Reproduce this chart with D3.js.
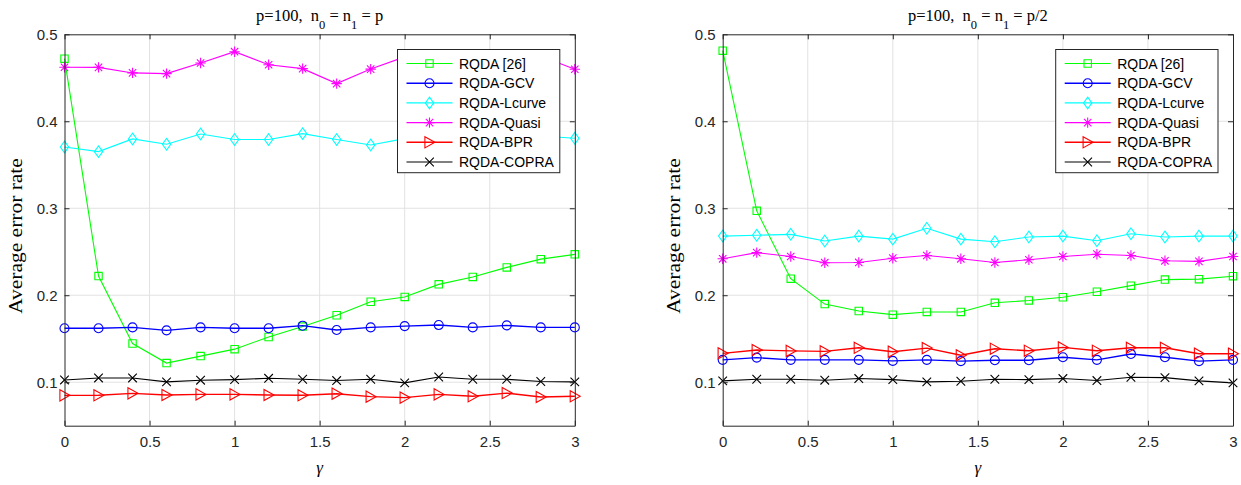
<!DOCTYPE html>
<html>
<head>
<meta charset="utf-8">
<script src="https://cdn.jsdelivr.net/npm/d3@7"></script>
<style>
  body { margin: 0; background: #fff; }
  svg { display: block; }
  .title, .ylab, .xlab { font-family: "Liberation Serif", "Times New Roman", serif; fill: #000; white-space: pre; }
  .tick text { font-family: "Liberation Sans", Arial, sans-serif; font-size: 15px; fill: #262626; }
  .legend text { font-family: "Liberation Sans", Arial, sans-serif; font-size: 14px; fill: #000; }
</style>
</head>
<body>
<svg id="fig" width="1241" height="485"></svg>
<script>
// Regularisation parameter sweep
const gamma = [0, 0.2, 0.4, 0.6, 0.8, 1.0, 1.2, 1.4, 1.6, 1.8, 2.0, 2.2, 2.4, 2.6, 2.8, 3.0];
const seriesNames = ["RQDA [26]", "RQDA-GCV", "RQDA-Lcurve", "RQDA-Quasi", "RQDA-BPR", "RQDA-COPRA"];
const xTicks = [0, 0.5, 1, 1.5, 2, 2.5, 3];
const xTickLabels = ["0", "0.5", "1", "1.5", "2", "2.5", "3"];
const yTicks = [0.1, 0.2, 0.3, 0.4, 0.5];
const yTickLabels = ["0.1", "0.2", "0.3", "0.4", "0.5"];

// p = 100, n0 = n1 = p
const rqdaFull   = [0.472, 0.222, 0.1445, 0.122, 0.130, 0.138, 0.152, 0.164, 0.177, 0.1925, 0.198, 0.2125, 0.221, 0.232, 0.2415, 0.247];
const gcvFull    = [0.162, 0.162, 0.163, 0.1596, 0.163, 0.162, 0.162, 0.165, 0.160, 0.163, 0.1645, 0.1657, 0.163, 0.1653, 0.163, 0.163];
const lcurveFull = [0.3705, 0.3651, 0.3797, 0.3736, 0.3854, 0.379, 0.379, 0.3858, 0.379, 0.3728, 0.380, 0.381, 0.382, 0.380, 0.383, 0.3804];
const quasiFull  = [0.4621, 0.462, 0.4556, 0.4548, 0.467, 0.480, 0.465, 0.4605, 0.4433, 0.460, 0.474, 0.470, 0.472, 0.468, 0.475, 0.4598];
const bprFull    = [0.0849, 0.085, 0.0872, 0.0853, 0.086, 0.086, 0.0853, 0.085, 0.0868, 0.0834, 0.0823, 0.086, 0.0838, 0.0875, 0.083, 0.0838];
const copraFull  = [0.1026, 0.1049, 0.1049, 0.1004, 0.1023, 0.103, 0.1045, 0.1034, 0.1019, 0.1034, 0.0992, 0.106, 0.1034, 0.1034, 0.1008, 0.1004];

// p = 100, n0 = n1 = p/2
const rqdaHalf   = [0.4812, 0.297, 0.219, 0.1898, 0.1819, 0.1777, 0.1808, 0.1808, 0.1913, 0.194, 0.1977, 0.204, 0.211, 0.218, 0.2185, 0.2219];
const gcvHalf    = [0.1257, 0.1283, 0.1257, 0.1257, 0.1257, 0.1245, 0.1257, 0.1242, 0.1253, 0.1253, 0.1287, 0.1257, 0.1325, 0.1287, 0.1242, 0.1257];
const lcurveHalf = [0.268, 0.269, 0.270, 0.2623, 0.268, 0.2645, 0.277, 0.2645, 0.2615, 0.267, 0.268, 0.2626, 0.2706, 0.267, 0.268, 0.268];
const quasiHalf  = [0.2419, 0.249, 0.2445, 0.2374, 0.2377, 0.2426, 0.2457, 0.2419, 0.2377, 0.2408, 0.2445, 0.2472, 0.2457, 0.2396, 0.2389, 0.2445];
const bprHalf    = [0.1332, 0.137, 0.136, 0.1355, 0.1396, 0.1351, 0.1392, 0.131, 0.1385, 0.1362, 0.140, 0.1362, 0.1396, 0.1396, 0.1328, 0.1328];
const copraHalf  = [0.1015, 0.1034, 0.1034, 0.1023, 0.1042, 0.103, 0.1004, 0.1011, 0.1034, 0.103, 0.1042, 0.1019, 0.1057, 0.1053, 0.1015, 0.0992];

// Marker outlines, centred on (0,0)
const markerPath = {
  square:   () => "M-3.7,-3.7H3.7V3.7H-3.7Z",
  circle:   () => "M-4.5,0A4.5,4.5 0 1,0 4.5,0A4.5,4.5 0 1,0 -4.5,0Z",
  diamond:  () => "M0,-5.8L4.2,0L0,5.8L-4.2,0Z",
  asterisk: () => "M0,-5.2V5.2M-5.2,0H5.2M-3.7,-3.7L3.7,3.7M-3.7,3.7L3.7,-3.7",
  triRight: () => "M-4.6,-5.6L5.4,0L-4.6,5.6Z",
  cross:    () => "M-4.3,-4.3L4.3,4.3M-4.3,4.3L4.3,-4.3"
};
const seriesStyle = [
  { color: "#00ff00", marker: "square",   width: 1.1 },
  { color: "#0000ff", marker: "circle",   width: 1.4 },
  { color: "#00ffff", marker: "diamond",  width: 1.1 },
  { color: "#ff00ff", marker: "asterisk", width: 1.1 },
  { color: "#ff0000", marker: "triRight", width: 1.4 },
  { color: "#000000", marker: "cross",    width: 1.1 }
];

const panels = [
  { left: 64.5, title: ["p=100,  n", "0", " = n", "1", " = p"],
    series: [rqdaFull, gcvFull, lcurveFull, quasiFull, bprFull, copraFull] },
  { left: 722.7, title: ["p=100,  n", "0", " = n", "1", " = p/2"],
    series: [rqdaHalf, gcvHalf, lcurveHalf, quasiHalf, bprHalf, copraHalf] }
];

const plotW = 510.3, plotTop = 34.3, plotBottom = 425.7;
const axisColor = "#262626", gridColor = "#e2e2e2";
const svg = d3.select("#fig");

panels.forEach(p => {
  const x = d3.scaleLinear().domain([0, 3]).range([p.left, p.left + plotW]);
  const y = d3.scaleLinear().domain([0.05, 0.5]).range([plotBottom, plotTop]);
  const g = svg.append("g");

  // white plotting area and grid
  g.append("rect").attr("x", x(0)).attr("y", plotTop)
    .attr("width", plotW).attr("height", plotBottom - plotTop).attr("fill", "#fff");
  g.append("g").selectAll("line").data(xTicks.slice(1, -1)).join("line")
    .attr("x1", d => x(d)).attr("x2", d => x(d)).attr("y1", plotTop).attr("y2", plotBottom)
    .attr("stroke", gridColor).attr("stroke-width", 1);
  g.append("g").selectAll("line").data(yTicks.slice(0, -1)).join("line")
    .attr("y1", d => y(d)).attr("y2", d => y(d)).attr("x1", x(0)).attr("x2", x(3))
    .attr("stroke", gridColor).attr("stroke-width", 1);

  // data lines and markers
  p.series.forEach((vals, i) => {
    const st = seriesStyle[i];
    const pts = gamma.map((gm, k) => [gm, vals[k]]);
    g.append("path").datum(pts)
      .attr("d", d3.line().x(d => x(d[0])).y(d => y(d[1])))
      .attr("fill", "none").attr("stroke", st.color).attr("stroke-width", st.width);
    g.append("g").selectAll("path").data(pts).join("path")
      .attr("transform", d => `translate(${x(d[0])},${y(d[1])})`)
      .attr("d", markerPath[st.marker]())
      .attr("fill", "none").attr("stroke", st.color).attr("stroke-width", 1.1);
  });

  // axes with inward ticks on all four sides
  const fmtX = d => xTickLabels[xTicks.indexOf(d)];
  const fmtY = d => yTickLabels[yTicks.findIndex(t => Math.abs(t - d) < 1e-9)];
  const axes = [
    g.append("g").attr("transform", `translate(0,${plotBottom})`)
      .call(d3.axisBottom(x).tickValues(xTicks).tickFormat(fmtX).tickSizeInner(-5).tickSizeOuter(0).tickPadding(11)),
    g.append("g").attr("transform", `translate(0,${plotTop})`)
      .call(d3.axisTop(x).tickValues(xTicks).tickFormat("").tickSizeInner(-5).tickSizeOuter(0)),
    g.append("g").attr("transform", `translate(${x(0)},0)`)
      .call(d3.axisLeft(y).tickValues(yTicks).tickFormat(fmtY).tickSizeInner(-5).tickSizeOuter(0).tickPadding(7)),
    g.append("g").attr("transform", `translate(${x(3)},0)`)
      .call(d3.axisRight(y).tickValues(yTicks).tickFormat("").tickSizeInner(-5).tickSizeOuter(0))
  ];
  axes.forEach(a => {
    a.select(".domain").attr("stroke", axisColor).attr("stroke-width", 1);
    a.selectAll(".tick line").attr("stroke", axisColor);
    a.selectAll(".tick text").attr("font-family", null).attr("font-size", null);
  });

  // title with subscripts
  const t = g.append("text").attr("class", "title")
    .attr("x", x(1.5)).attr("y", 20.5).attr("text-anchor", "middle").attr("font-size", 16.5);
  p.title.forEach((s, k) => {
    const sub = k % 2 === 1;
    t.append("tspan").text(s)
      .attr("font-size", sub ? 12.5 : 16.5)
      .attr("dy", sub ? 8.5 : (k === 0 ? 0 : -8.5));
  });

  // axis labels
  g.append("text").attr("class", "ylab")
    .attr("transform", `translate(${x(0) - 43},${(plotTop + plotBottom) / 2 + 6}) rotate(-90) scale(1.13,1)`)
    .attr("text-anchor", "middle").attr("font-size", 19).text("Average error rate");
  g.append("text").attr("class", "xlab")
    .attr("x", x(1.5)).attr("y", 473).attr("text-anchor", "middle")
    .attr("font-size", 17).attr("font-style", "italic").text("γ");

  // legend
  const lx = x(3) - 177.3, ly = 49.5, lw = 162.3, lh = 123.2;
  const leg = g.append("g").attr("class", "legend");
  leg.append("rect").attr("x", lx).attr("y", ly).attr("width", lw).attr("height", lh)
    .attr("fill", "#fff").attr("stroke", axisColor).attr("stroke-width", 1);
  seriesNames.forEach((name, i) => {
    const st = seriesStyle[i];
    const cy = ly + 14 + i * 19.7;
    leg.append("line").attr("x1", lx + 9).attr("x2", lx + 55).attr("y1", cy).attr("y2", cy)
      .attr("stroke", st.color).attr("stroke-width", st.width);
    leg.append("path").attr("transform", `translate(${lx + 32},${cy})`)
      .attr("d", markerPath[st.marker]()).attr("fill", "none")
      .attr("stroke", st.color).attr("stroke-width", 1.1);
    leg.append("text").attr("x", lx + 61.5).attr("y", cy + 5).text(name);
  });
});
</script>
</body>
</html>
